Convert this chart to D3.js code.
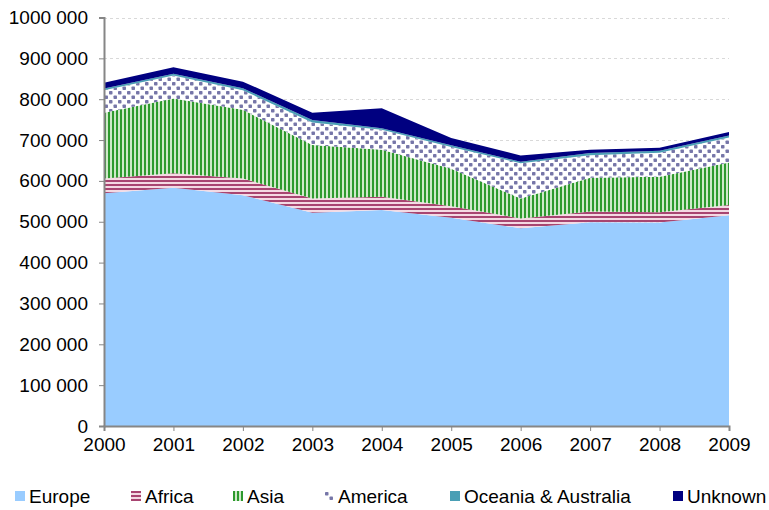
<!DOCTYPE html>
<html>
<head>
<meta charset="utf-8">
<script src="https://cdn.jsdelivr.net/npm/d3@7"></script>
<style>
body{margin:0;background:#fff;}
svg{display:block;font-family:"Liberation Sans",Arial,sans-serif;}
</style>
</head>
<body>
<svg id="chart" width="769" height="510"></svg>
<script>
const years = [2000,2001,2002,2003,2004,2005,2006,2007,2008,2009];
const seriesNames = ["Europe","Africa","Asia","America","Oceania & Australia","Unknown"];
const europe  = [570,583,565,522,529,510,484,499,498,516];
const africa  = [36,36,41,35,32,28,24,26,25,25];
const asia    = [161,183,168,131,115,92,49,83,87,104];
const america = [55,56,48,55,49,53,86,55,59,61];
const oceania = [4,4,5,6,4,4,4,5,5,5];
const unknown = [14,16,16,18,49,18,15,8,7,9];
const yTicks = [0,100000,200000,300000,400000,500000,600000,700000,800000,900000,1000000];
const yTickLabels = ["0","100 000","200 000","300 000","400 000","500 000","600 000","700 000","800 000","900 000","1000 000"];

const seriesValues = [europe,africa,asia,america,oceania,unknown];
const rows = years.map((y,i)=>{
  const r = {year:y};
  seriesNames.forEach((n,k)=>{ r[n] = seriesValues[k][i]*1000; });
  return r;
});

const svg = d3.select("#chart");
const margin = {left:104, right:40, top:17.5, bottom:84};
const W = 769, H = 510;
const FONT = "'Liberation Sans',Arial,sans-serif";
const x = d3.scaleLinear().domain([2000,2009]).range([margin.left, W-margin.right]);
const y = d3.scaleLinear().domain([0,1000000]).range([H-margin.bottom, margin.top]);

// patterns
const defs = svg.append("defs");
const pA = defs.append("pattern").attr("id","pAfrica").attr("patternUnits","userSpaceOnUse").attr("width",8).attr("height",4);
pA.append("rect").attr("width",8).attr("height",4).attr("fill","#f4d9e3");
pA.append("rect").attr("y",0).attr("width",8).attr("height",2).attr("fill","#a84571");
const pS = defs.append("pattern").attr("id","pAsia").attr("patternUnits","userSpaceOnUse").attr("width",4).attr("height",8);
pS.append("rect").attr("width",4).attr("height",8).attr("fill","#cfe9c9");
pS.append("rect").attr("x",0).attr("width",2).attr("height",8).attr("fill","#2e9a2e");
const pM = defs.append("pattern").attr("id","pAmerica").attr("patternUnits","userSpaceOnUse").attr("width",9).attr("height",9);
pM.append("rect").attr("width",9).attr("height",9).attr("fill","#ffffff");
pM.append("rect").attr("x",1).attr("y",1).attr("width",3.5).attr("height",3.5).attr("rx",0.8).attr("fill","#7676a8");
pM.append("rect").attr("x",5.5).attr("y",5.5).attr("width",3.5).attr("height",3.5).attr("rx",0.8).attr("fill","#7676a8");

const fills = ["#99ccff","url(#pAfrica)","url(#pAsia)","url(#pAmerica)","#4a9fb5","#000080"];

// gridlines
svg.append("g").selectAll("line").data(yTicks.slice(1)).join("line")
  .attr("x1",x(2000)).attr("x2",x(2009))
  .attr("y1",d=>Math.round(y(d))+0.5).attr("y2",d=>Math.round(y(d))+0.5)
  .attr("stroke","#d9d9d9").attr("stroke-dasharray","3,3").attr("stroke-width",1);

const stack = d3.stack().keys(seriesNames);
const layers = stack(rows);
const area = d3.area().x(d=>x(d.data.year)).y0(d=>y(d[0])).y1(d=>y(d[1]));
svg.append("g").selectAll("path").data(layers).join("path")
  .attr("d",area).attr("fill",(d,i)=>fills[i]);

// axes
const yAxis = d3.axisLeft(y).tickValues(yTicks).tickSize(5)
  .tickFormat((d,i)=>yTickLabels[i]);
const gy = svg.append("g").attr("transform",`translate(${x(2000)},0)`).call(yAxis);
gy.select(".domain").attr("stroke","#868686").attr("stroke-width",2);
gy.selectAll(".tick line").attr("stroke","#868686");
gy.selectAll("text").attr("font-size",19).attr("fill","#000").attr("x",-16)
  .style("font-family",FONT);

const xAxis = d3.axisBottom(x).tickValues(years).tickFormat(d3.format("d")).tickSize(5);
const gx = svg.append("g").attr("transform",`translate(0,${y(0)})`).call(xAxis);
gx.select(".domain").attr("stroke","#868686").attr("stroke-width",2);
gx.selectAll(".tick line").attr("stroke","#868686");
gx.selectAll("text").attr("font-size",19).attr("fill","#000").attr("y",11).attr("dy","0.75em")
  .style("font-family",FONT);

// legend
const legendX = [15,131,233,324,450,673];
const lg = svg.append("g").selectAll("g").data(seriesNames).join("g")
  .attr("transform",(d,i)=>`translate(${legendX[i]},${491})`);
lg.append("rect").attr("width",10).attr("height",10).attr("fill",(d,i)=>fills[i]);
lg.append("text").attr("x",14).attr("y",12).attr("font-size",19).attr("fill","#000")
  .style("font-family",FONT).text(d=>d);
</script>
</body>
</html>
